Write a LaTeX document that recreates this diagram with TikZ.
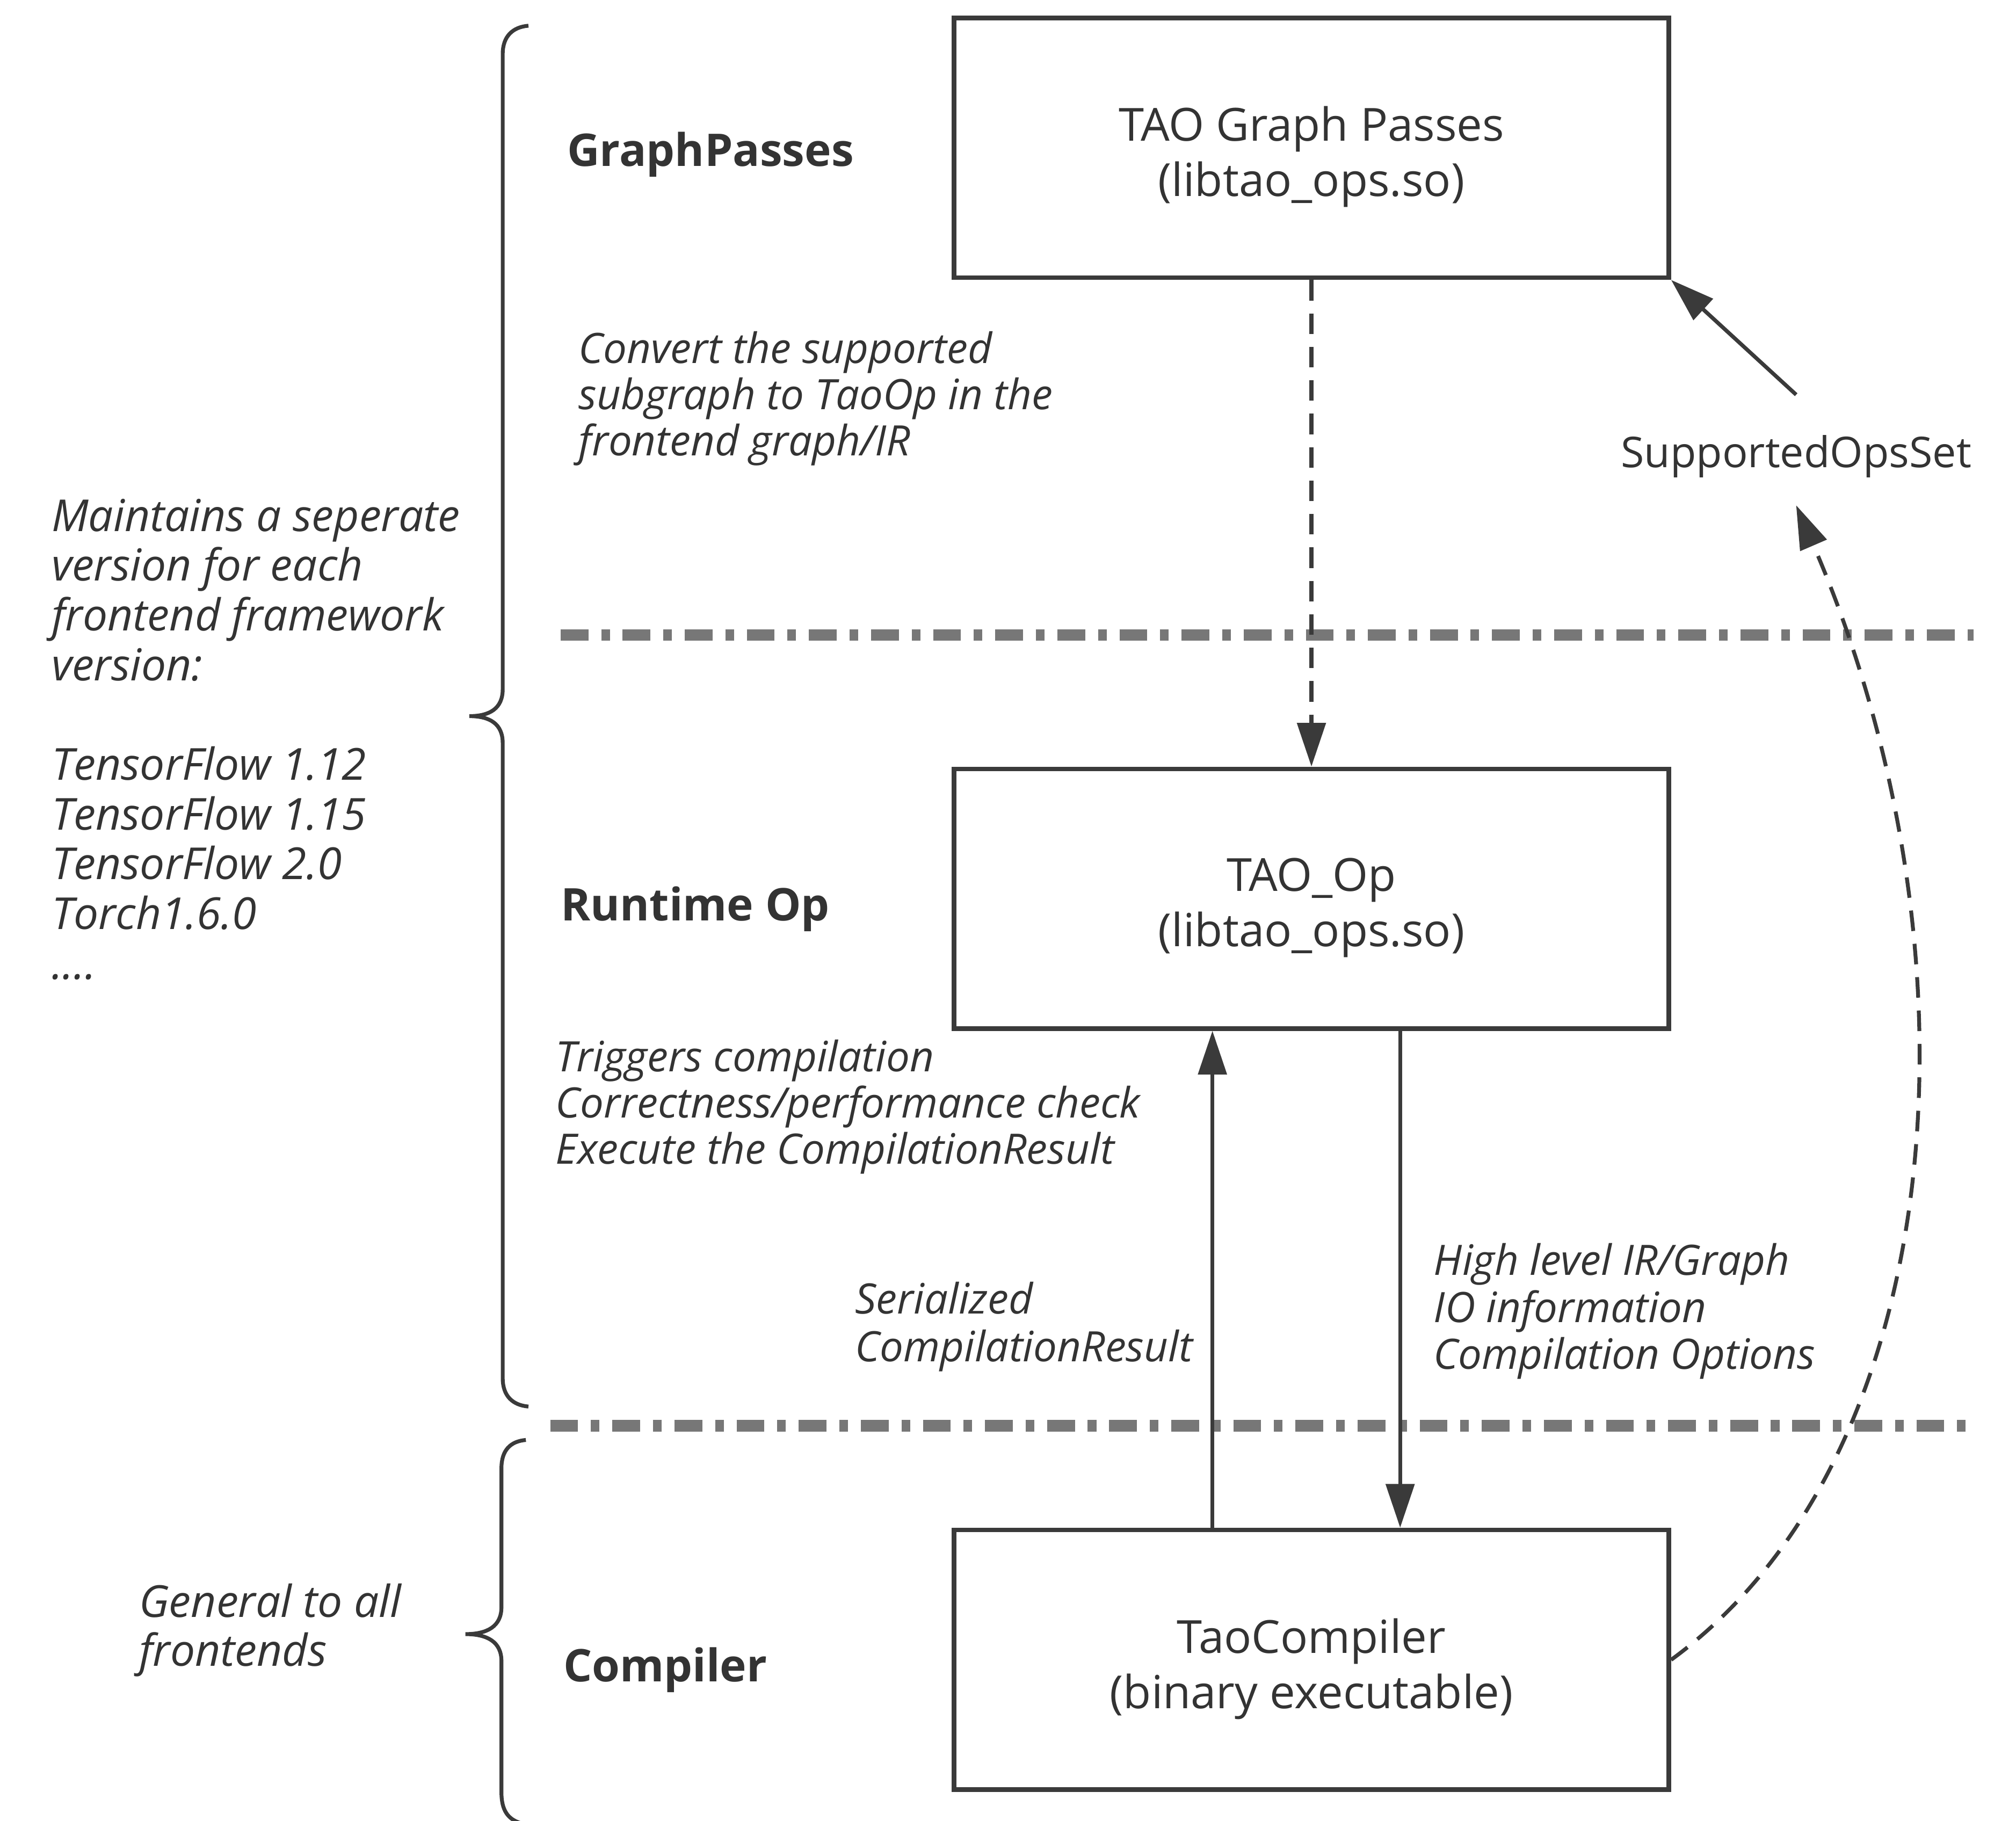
\documentclass[tikz,border=0pt]{standalone}
\usepackage{fontspec}
\setmainfont{Open Sans}
\usetikzlibrary{arrows.meta}
\definecolor{ink}{HTML}{333333}
\definecolor{linec}{HTML}{3A3A3A}
\definecolor{sepgray}{HTML}{777777}
\tikzset{
  box/.style={draw=linec, line width=3.5pt, minimum width=556pt, minimum height=202pt, inner sep=0pt},
  boxtext/.style={inner sep=0pt, align=center, text=ink, font=\fontsize{35.5}{43}\selectfont},
  arr/.style={draw=linec, line width=3pt, -{Triangle[length=34pt,width=22pt]}},
  dasharr/.style={arr, dash pattern=on 16pt off 10pt},
  sepline/.style={draw=sepgray, line width=9pt, dash pattern=on 21.6pt off 10pt on 6.7pt off 10pt},
  bracepath/.style={draw=linec, line width=3pt},
  lab/.style={text=ink, inner sep=0pt, align=left, anchor=west},
  ital/.style={lab, font=\itshape\fontsize{32.6}{36}\selectfont},
  italL/.style={lab, font=\itshape\fontsize{34.3}{38.7}\selectfont},
  head/.style={lab, font=\bfseries\fontsize{35}{40}\selectfont},
}
\begin{document}
\begin{tikzpicture}[x=1pt, y=-1pt]
\useasboundingbox (0,0) rectangle (1568,1416);
\fill[white] (0,0) rectangle (1568,1416);

% separators
\draw[sepline] (436,494) -- (1535,494);
\draw[sepline] (428,1109) -- (1535,1109);

% boxes
\node[box] (gp) at (1020,115) {};
\node[box] (tao) at (1020,699) {};
\node[box] (tc) at (1020,1291) {};
\node[boxtext, yshift=-7pt] (gpt) at (gp) {TAO Graph Passes\\(libtao\_ops.so)};
\node[boxtext, yshift=-7pt] (taot) at (tao) {TAO\_Op\\(libtao\_ops.so)};
\node[boxtext, yshift=-7pt] (tct) at (tc) {TaoCompiler\\(binary executable)};

% supported ops set
\node[lab, anchor=center, font=\fontsize{33}{40}\selectfont] (sos) at (1397,355) {SupportedOpsSet};
\coordinate (sosTop) at (1397,307);
\coordinate (sosBot) at (1397,393);

% arrows
\draw[dasharr] (gp.south) -- (tao.north);
\draw[arr] ([xshift=-77pt]tc.north) -- ([xshift=-77pt]tao.south);
\draw[arr] ([xshift=69pt]tao.south) -- ([xshift=69pt]tc.north);
\draw[arr] (sosTop) -- (gp.south east);
\draw[dasharr] (tc.east) .. controls (1520,1130) and (1545,735) .. (sosBot);

% headings
\node[head] (h1) at (441,120) {GraphPasses};
\node[head] (h2) at (436,707) {Runtime Op};
\node[head] (h3) at (438,1299) {Compiler};

% labels
\node[ital] (l1) at (450,310) {Convert the supported\\subgraph to TaoOp in the\\frontend graph/IR};
\node[italL] (l2) at (40,575)
  {Maintains a seperate\\version for each\\frontend framework\\version:\\\mbox{}\\TensorFlow 1.12\\TensorFlow 1.15\\TensorFlow 2.0\\Torch1.6.0\\....};
\node[ital] (l3) at (432,861) {Triggers compilation\\Correctness/performance check\\Execute the CompilationResult};
\node[ital, font=\itshape\fontsize{32.6}{37}\selectfont] (l4) at (665,1032) {Serialized\\CompilationResult};
\node[ital, font=\itshape\fontsize{32.6}{36.5}\selectfont] (l5) at (1115,1020) {High level IR/Graph\\IO information\\Compilation Options};
\node[italL, font=\itshape\fontsize{34.3}{38}\selectfont] (l6) at (108,1268) {General to all\\frontends};

% braces
\draw[bracepath] (411,20) .. controls (399,21) and (391,28) .. (391,42) -- (391,536)
  .. controls (391,551) and (381,557) .. (365,557)
  .. controls (381,557) and (391,563) .. (391,578) -- (391,1072)
  .. controls (391,1086) and (399,1093) .. (411,1094);
\draw[bracepath] (409,1120) .. controls (397,1121) and (390,1128) .. (390,1142) -- (390,1250)
  .. controls (390,1265) and (379,1271) .. (362,1271)
  .. controls (379,1271) and (390,1277) .. (390,1292) -- (390,1394)
  .. controls (390,1408) and (395,1415) .. (405,1418);
\end{tikzpicture}
\end{document}
